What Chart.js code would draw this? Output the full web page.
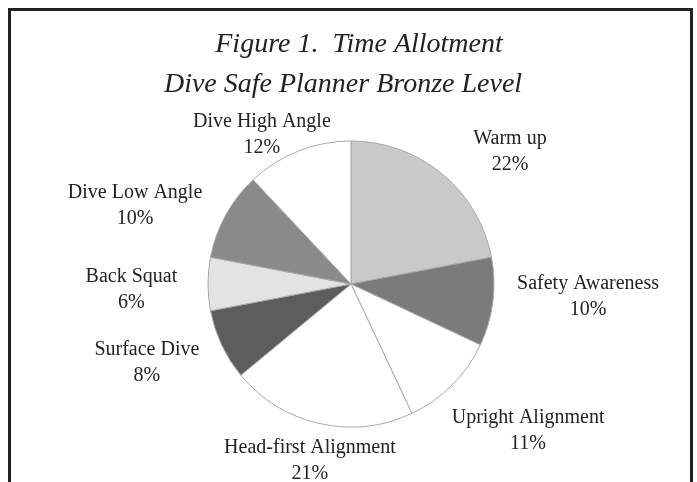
<!DOCTYPE html>
<html>
<head>
<meta charset="utf-8">
<script src="https://cdn.jsdelivr.net/npm/chart.js@4"></script>
<style>
  html, body { margin: 0; padding: 0; background: #fff; overflow: hidden; }
  #wrap { position: relative; width: 697px; height: 482px; }
  #frame { position: absolute; left: 8px; top: 8px; width: 679px; height: 520px; border: 3px solid #222; }
  canvas { position: absolute; left: 0; top: 0; }
</style>
</head>
<body>
<div id="wrap">
  <div id="frame"></div>
  <canvas id="pie" width="697" height="482"></canvas>
</div>
<script>
const categories = ["Warm up", "Safety Awareness", "Upright Alignment", "Head-first Alignment",
                    "Surface Dive", "Back Squat", "Dive Low Angle", "Dive High Angle"];
const percents = [22, 10, 11, 21, 8, 6, 10, 12];
const titleLines = ["Figure 1.  Time Allotment", "Dive Safe Planner Bronze Level"];

const fills = ["#c9c9c9", "#7b7b7b", "#ffffff", "#ffffff", "#5d5d5d", "#e3e3e3", "#8a8a8a", "#ffffff"];

// where each label sits: turn (degrees) off the slice middle, distance in radii
const labelPlace = [[10.7, 1.445], [-4.2, 1.66], [-5.4, 1.607], [0.5, 1.267],
                    [4.2, 1.529], [-1.6, 1.536], [-8.8, 1.607], [-9.2, 1.217]];

const serif = "'Liberation Serif', 'Times New Roman', serif";

const labelsPlugin = {
  id: 'pieLabels',
  afterDatasetsDraw(chart) {
    const ctx = chart.ctx;
    const meta = chart.getDatasetMeta(0);
    ctx.save();
    ctx.fillStyle = '#222';
    ctx.textAlign = 'center';
    ctx.textBaseline = 'middle';
    ctx.font = '20px ' + serif;
    meta.data.forEach((arc, i) => {
      const mid = (arc.startAngle + arc.endAngle) / 2 + labelPlace[i][0] * Math.PI / 180;
      const d = arc.outerRadius * labelPlace[i][1];
      const x = arc.x + Math.cos(mid) * d;
      const y = arc.y + Math.sin(mid) * d;
      ctx.fillText(categories[i], x, y - 13);
      ctx.fillText(percents[i] + '%', x, y + 13);
    });
    // title
    ctx.font = 'italic 28px ' + serif;
    ctx.fillText(titleLines[0], 359, 45);
    ctx.fillText(titleLines[1], 343, 85);
    ctx.restore();
  }
};

new Chart(document.getElementById('pie'), {
  type: 'pie',
  data: {
    labels: categories,
    datasets: [{
      data: percents,
      backgroundColor: fills,
      borderColor: '#a9a9a9',
      borderWidth: 1
    }]
  },
  options: {
    responsive: false,
    animation: false,
    radius: 143,
    layout: { padding: { top: 130, bottom: 44, left: 105, right: 100 } },
    plugins: {
      legend: { display: false },
      tooltip: { enabled: false },
      title: { display: false }
    }
  },
  plugins: [labelsPlugin]
});
</script>
</body>
</html>
